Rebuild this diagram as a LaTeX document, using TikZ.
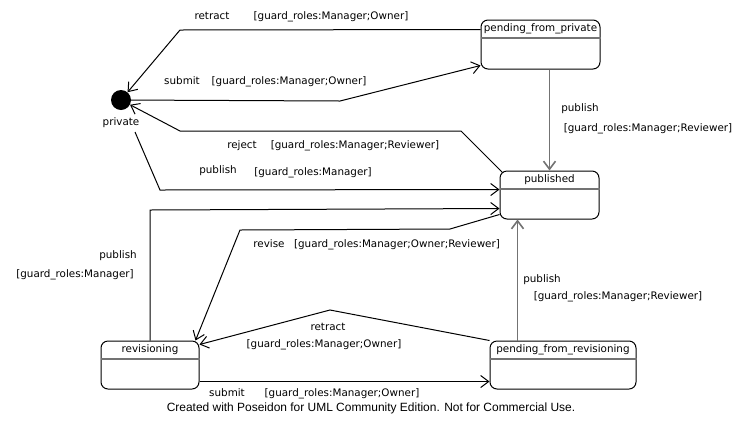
\documentclass[tikz,border=0pt]{standalone}
\usepackage{fontspec}
\setmainfont{DejaVu Sans}
\newfontfamily\footfont{Liberation Sans}
\usetikzlibrary{arrows.meta}
\tikzset{
  state/.style={draw, line width=1bp, rounded corners=7bp, inner sep=0pt, minimum height=48bp},
  divider/.style={draw=black!55, line width=2bp},
  txt/.style={font=\fontsize{10.4}{12}\selectfont, inner sep=0pt, text height=7.8bp, text depth=2.2bp},
  trans/.style={draw, line width=1bp, -{Straight Barb[length=8bp,width=12bp]}},
  greytrans/.style={trans, draw=black!55, line width=1.6bp}
}
\begin{document}
\begin{tikzpicture}[x=1bp, y=-1bp]
      \useasboundingbox (0,0) rectangle (749,431);
      % states
      \node[circle, fill=black, minimum size=20bp, inner sep=0pt] (private) at (121,100) {};
      \node[txt] (private-name) at (121,123) {private};
      \node[state, minimum width=119bp, minimum height=49bp] (pfp) at (540.5,44.5) {};
      \node[state, minimum width=99bp] (published) at (549.5,195) {};
      \node[state, minimum width=98bp] (revisioning) at (150,365) {};
      \node[state, minimum width=146bp] (pfr) at (563,365) {};
      \foreach \s/\t in {pfp/pending\_from\_private, published/published,
                         revisioning/revisioning, pfr/pending\_from\_revisioning} {
        \node[txt] (\s-title) at ([yshift=-9.5bp]\s.north) {\t};
        \draw[divider] ([yshift=-18.5bp]\s.north west) -- ([yshift=-18.5bp]\s.north east);
      }
      % transitions
      \coordinate (pub-start) at (135,132);
      \draw[trans] ([yshift=-10bp]pfp.north west) -- (180,30) -- (private);
      \draw[trans] (private) -- (340,101) -- ([yshift=4bp]pfp.south west);
      \draw[trans] ([shift={(3bp,-2bp)}]published.north west) -- (461,131) -- (180,131) -- (private);
      \draw[trans] (pub-start) -- (160,190) -- ([yshift=-19bp]published.north west);
      \draw[trans] (revisioning.north) -- (150,210) -- ([yshift=-38bp]published.north west);
      \draw[trans] ([yshift=5bp]published.south west) -- (450,229) -- (240,230)
                   -- ([xshift=-4bp]revisioning.north east);
      \draw[trans] (pfr.north west) -- (330,310) -- ([yshift=-4bp]revisioning.north east);
      \draw[trans] ([yshift=8bp]revisioning.south east) -- ([yshift=8bp]pfr.south west);
      \draw[greytrans] (published.north |- pfp.south) -- (published.north);
      \draw[greytrans] ([xshift=28bp]pfr.north west) -- ([xshift=28bp]pfr.north west |- published.south);
      % labels
      \node[txt] (retract1) at (212,17) {retract};
      \node[txt] (retract1-g) at (331,17) {[guard\_roles:Manager;Owner]};
      \node[txt] (submit1) at (182,82) {submit};
      \node[txt] (submit1-g) at (289,82) {[guard\_roles:Manager;Owner]};
      \node[txt] (reject) at (242,146) {reject};
      \node[txt] (reject-g) at (355,146) {[guard\_roles:Manager;Reviewer]};
      \node[txt] (publish1) at (218,171) {publish};
      \node[txt] (publish1-g) at (313,173) {[guard\_roles:Manager]};
      \node[txt] (publish2) at (580,109) {publish};
      \node[txt] (publish2-g) at (648,129) {[guard\_roles:Manager;Reviewer]};
      \node[txt] (publish3) at (118,256) {publish};
      \node[txt] (publish3-g) at (75,275) {[guard\_roles:Manager]};
      \node[txt] (revise) at (269,245) {revise};
      \node[txt] (revise-g) at (397,245) {[guard\_roles:Manager;Owner;Reviewer]};
      \node[txt] (retract2) at (328,328) {retract};
      \node[txt] (retract2-g) at (324,345) {[guard\_roles:Manager;Owner]};
      \node[txt] (submit2) at (227,394) {submit};
      \node[txt] (submit2-g) at (342,394) {[guard\_roles:Manager;Owner]};
      \node[txt] (publish4) at (542,280) {publish};
      \node[txt] (publish4-g) at (618,297) {[guard\_roles:Manager;Reviewer]};
      \node[font=\footfont\fontsize{12}{14}\selectfont, inner sep=0pt] (footer) at (371,408)
            {Created with Poseidon for UML Community Edition. Not for Commercial Use.};
\end{tikzpicture}
\end{document}
